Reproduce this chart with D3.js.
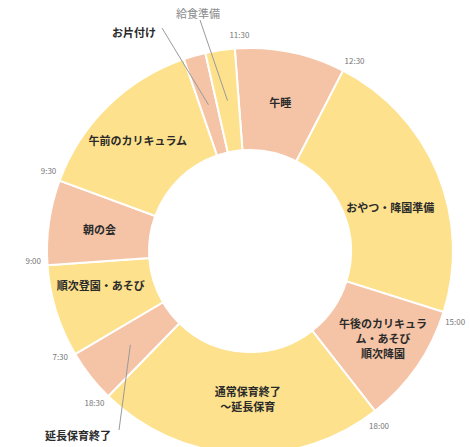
<!DOCTYPE html>
<html><head><meta charset="utf-8">
<script src="https://cdn.jsdelivr.net/npm/d3@7"></script>
<style>
html,body{margin:0;padding:0;background:#fff;}
svg{display:block;font-family:"Noto Sans CJK JP","Noto Sans",sans-serif;}
</style></head>
<body>
<svg id="chart" width="470" height="447"></svg>
<script>
// ---- data ----
const categories = ["午睡","おやつ・降園準備","午後のカリキュラム・あそび・順次降園","通常保育終了～延長保育","延長保育終了","順次登園・あそび","朝の会","午前のカリキュラム","お片付け","給食準備"];
const values = [31.6, 80.2, 34.5, 82.3, 15.2, 26.5, 24.3, 50.7, 6.3, 8.4];
const startTimes = ["11:30","12:30","15:00","18:00","18:30","7:30","9:00","9:30","",""];
const labelLines = [["午睡"],["おやつ・降園準備"],["午後のカリキュラ","ム・あそび","順次降園"],["通常保育終了","～延長保育"],["延長保育終了"],["順次登園・あそび"],["朝の会"],["午前のカリキュラム"],["お片付け"],["給食準備"]];

// ---- layout / style ----
const W = 470, H = 447;
const cx = 250, cy = 251, R = 203, r = 101;
const colors = ["#f5c4a7", "#fde18c"];
const startDeg = -4.3;
const inlineOffset = {1:[0,14], 5:[-4,-11], 7:[-6,-2], 3:[6,-4], 2:[8,0]};
const outside = {
  4: {x:78, y:435, lx:119, ly:430, color:"#2a2a2a", weight:"bold"},
  8: {x:134, y:32, lx:162, ly:28, color:"#2a2a2a", weight:"bold"},
  9: {x:198, y:13, lx:200, ly:20, color:"#8a8a8a", weight:"normal"}
};

const svg = d3.select("#chart");
const g = svg.append("g").attr("transform", `translate(${cx},${cy})`);

const data = categories.map((c,i)=>({name:c, value:values[i], time:startTimes[i], lines:labelLines[i], i}));
const rad = d => d*Math.PI/180;
const pie = d3.pie().sort(null).value(d=>d.value)
  .startAngle(rad(startDeg)).endAngle(rad(startDeg+360));
const arcs = pie(data);
const arc = d3.arc().innerRadius(r).outerRadius(R);
const midArc = d3.arc().innerRadius((r+R)/2).outerRadius((r+R)/2);

g.selectAll("path.slice").data(arcs).enter().append("path")
  .attr("class","slice")
  .attr("d", arc)
  .attr("fill", d=>colors[d.data.i % 2 === 0 ? 0 : 1])
  .attr("stroke","#fff").attr("stroke-width",2);

// inline labels
const inl = g.selectAll("g.lab").data(arcs.filter(d=>!outside[d.data.i])).enter()
  .append("g").attr("class","lab")
  .attr("transform", d=>{
    const c = midArc.centroid(d); const o = inlineOffset[d.data.i]||[0,0];
    return `translate(${c[0]+o[0]},${c[1]+o[1]})`;
  });
inl.each(function(d){
  const n = d.data.lines.length, lh = 15;
  d3.select(this).selectAll("text").data(d.data.lines).enter().append("text")
    .attr("text-anchor","middle").attr("dominant-baseline","central")
    .attr("y",(t,k)=>(k-(n-1)/2)*lh)
    .attr("font-size",11).attr("font-weight","bold").attr("fill","#2a2a2a")
    .text(t=>t);
});

// outside labels with leader lines
arcs.filter(d=>outside[d.data.i]).forEach(d=>{
  const o = outside[d.data.i];
  const c = midArc.centroid(d);
  svg.append("line")
    .attr("x1", cx+c[0]).attr("y1", cy+c[1])
    .attr("x2", o.lx).attr("y2", o.ly)
    .attr("stroke","#9a9a9a").attr("stroke-width",1);
  svg.append("text").attr("x",o.x).attr("y",o.y)
    .attr("text-anchor","middle").attr("dominant-baseline","central")
    .attr("font-size",11).attr("font-weight",o.weight).attr("fill",o.color)
    .text(d.data.name);
});

// time labels at slice starts
const tr = 217;
g.selectAll("text.time").data(arcs.filter(d=>d.data.time)).enter().append("text")
  .attr("class","time")
  .attr("x", d=>tr*Math.sin(d.startAngle+rad(1.5)))
  .attr("y", d=>-tr*Math.cos(d.startAngle+rad(1.5)))
  .attr("text-anchor","middle").attr("dominant-baseline","central")
  .attr("font-size",8).attr("fill","#777")
  .text(d=>d.data.time);
</script>
</body></html>
